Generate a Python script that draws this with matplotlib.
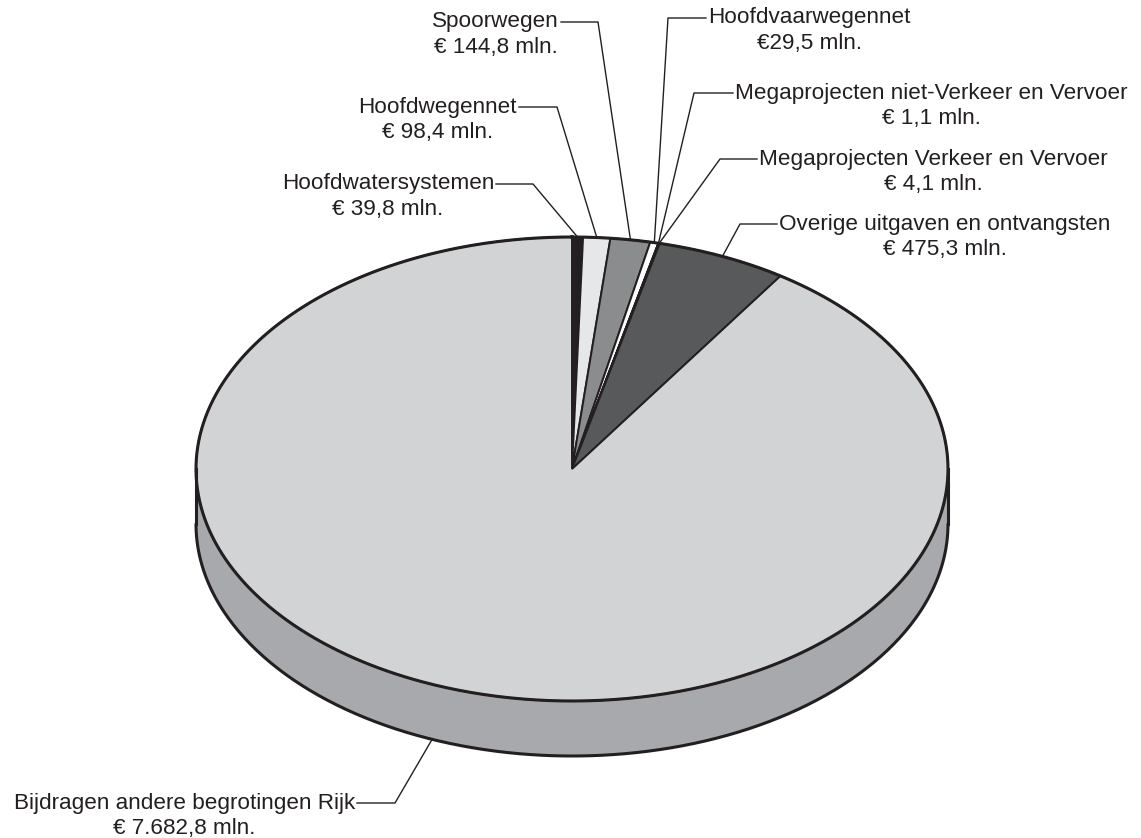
import numpy as np
import matplotlib
matplotlib.use("Agg")
import matplotlib.pyplot as plt
from matplotlib.patches import Polygon

# data (clockwise from 12 o'clock)
names = ["Hoofdwatersystemen", "Hoofdwegennet", "Spoorwegen", "Hoofdvaarwegennet",
         "Megaprojecten niet-Verkeer en Vervoer", "Megaprojecten Verkeer en Vervoer",
         "Overige uitgaven en ontvangsten", "Bijdragen andere begrotingen Rijk"]
values = [39.8, 98.4, 144.8, 29.5, 1.1, 4.1, 475.3, 7682.8]
value_labels = ["€ 39,8 mln.", "€ 98,4 mln.", "€ 144,8 mln.", "€29,5 mln.",
                "€ 1,1 mln.", "€ 4,1 mln.", "€ 475,3 mln.", "€ 7.682,8 mln."]
colors = ["#231f20", "#e6e7e8", "#8a8c8e", "#ffffff", "#231f20", "#ffffff", "#58595b", "#d1d3d4"]
side_colors = ["#1a1a1a", "#b8babc", "#6d6e70", "#d0d0d0", "#1a1a1a", "#d0d0d0", "#404042", "#a7a9ac"]

# layout (pixels): pie geometry and label elbows
cx, cy, rx, ry, depth = 572, 469, 376, 232, 55
# elbow x, elbow y, end of horizontal line x, side of text
elbows = [(533, 184, 496, "left"), (557, 107, 519, "left"), (598, 22, 561, "left"),
          (668, 18, 706, "right"), (694, 93, 733, "right"), (720, 159, 757, "right"),
          (740, 224, 777, "right"), (395, 803, 357, "left")]
anchor_shift = [0, 0, 0, 0, 0, 0, 0, 5]  # degrees

fig = plt.figure(figsize=(11.41, 8.38), dpi=100)
ax = fig.add_axes([0, 0, 1, 1])
ax.set_xlim(0, 1141)
ax.set_ylim(838, 0)
ax.axis("off")


def edge(t, dy=0):
    t = np.radians(t)
    return np.column_stack([cx + rx * np.sin(t), cy - ry * np.cos(t) + dy])


total = sum(values)
angles = np.concatenate([[0], np.cumsum(values) / total * 360])

# side wall (front half only)
for i in range(len(values)):
    a0, a1 = max(angles[i], 90), min(angles[i + 1], 270)
    if a1 <= a0:
        continue
    t = np.linspace(a0, a1, 200)
    pts = np.vstack([edge(t), edge(t[::-1], depth)])
    ax.add_patch(Polygon(pts, closed=True, facecolor=side_colors[i], edgecolor="none"))

t = np.linspace(90, 270, 300)
ax.plot(edge(t, depth)[:, 0], edge(t, depth)[:, 1], color="#231f20", lw=2.2, solid_capstyle="round")
for a in (90, 270):
    p = edge(np.array([a]))[0]
    ax.plot([p[0], p[0]], [p[1], p[1] + depth], color="#231f20", lw=2.2)

# top face
for i in range(len(values)):
    t = np.linspace(angles[i], angles[i + 1], max(3, int(angles[i + 1] - angles[i]) * 4))
    pts = np.vstack([[cx, cy], edge(t)])
    ax.add_patch(Polygon(pts, closed=True, facecolor=colors[i], edgecolor="#231f20",
                         lw=1.4, joinstyle="miter"))
t = np.linspace(0, 360, 721)
ax.plot(edge(t)[:, 0], edge(t)[:, 1], color="#231f20", lw=2.2)

# labels with leader lines
fs = 16.2
fam = ["Liberation Sans", "DejaVu Sans"]
fig.canvas.draw()
renderer = fig.canvas.get_renderer()
for i in range(len(values)):
    mid = (angles[i] + angles[i + 1]) / 2 + anchor_shift[i]
    dy = depth if i == len(values) - 1 else 0
    p = edge(np.array([mid]), dy)[0]
    ex, ey, hx, side = elbows[i]
    ax.plot([p[0], ex, hx], [p[1], ey, ey], color="#231f20", lw=1.0)
    if side == "left":
        txt = ax.text(hx - 2, ey, names[i], ha="right", va="center", fontsize=fs,
                      family=fam, color="#231f20")
    else:
        txt = ax.text(hx + 2, ey, names[i], ha="left", va="center", fontsize=fs,
                      family=fam, color="#231f20")
    bb = txt.get_window_extent(renderer=renderer)
    xc = ax.transData.inverted().transform([(bb.x0 + bb.x1) / 2, 0])[0]
    ax.text(xc, ey + 25.5, value_labels[i], ha="center", va="center", fontsize=fs,
            family=fam, color="#231f20")

fig.savefig("out.png", dpi=100)
